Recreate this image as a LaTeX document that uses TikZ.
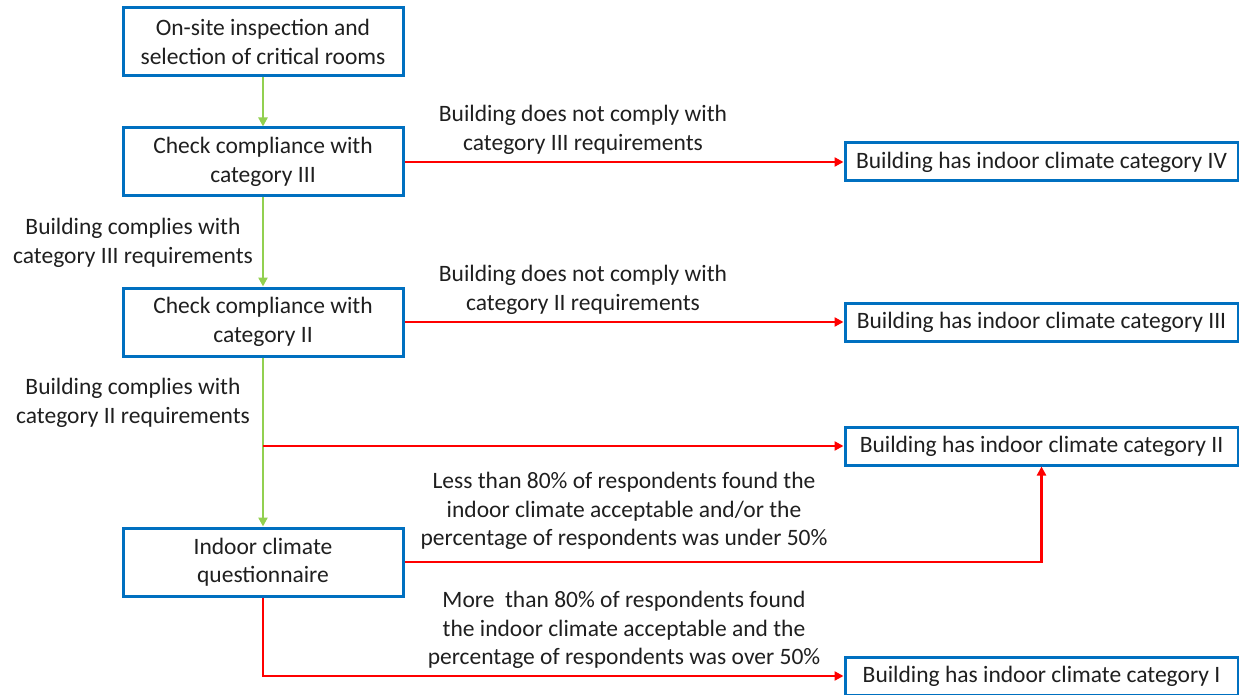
\documentclass[tikz,border=0pt]{standalone}
\usepackage{fontspec}
\setmainfont{Carlito}
\usetikzlibrary{arrows.meta}
\definecolor{boxblue}{RGB}{0,112,192}
\definecolor{okgreen}{RGB}{146,208,80}
\definecolor{failred}{RGB}{255,0,0}
\begin{document}
\begin{tikzpicture}[x=1pt,y=-1pt,
  every node/.style={font=\fontsize{23.5}{28.5}\selectfont, text=black!88, inner sep=0pt},
  stepbox/.style={draw=boxblue, line width=3pt, fill=white, minimum width=280pt, minimum height=68pt, align=center},
  resbox/.style={draw=boxblue, line width=3pt, fill=white, minimum width=393pt, minimum height=38pt, align=center},
  lbl/.style={align=center},
  yes/.style={draw=okgreen, line width=2.4pt, -{Triangle[length=9pt,width=9pt]}},
  no/.style={draw=failred, line width=2.4pt, -{Triangle[length=9pt,width=9pt]}}]
\useasboundingbox (0,0) rectangle (1239,695);

% process steps
\node[stepbox] (s1) at (263,42) {On-site inspection and\\selection of critical rooms};
\node[stepbox] (s2) at (263,162) {Check compliance with\\category III};
\node[stepbox] (s3) at (263,322) {Check compliance with\\category II};
\node[stepbox] (s4) at (263,562) {Indoor climate\\questionnaire};

% outcomes
\node[resbox] (c4) at (1041.5,162) {Building has indoor climate category IV};
\node[resbox] (c3) at (1041.5,322) {Building has indoor climate category III};
\node[resbox] (c2) at (1041.5,446) {Building has indoor climate category II};
\node[resbox] (c1) at (1041.5,676) {Building has indoor climate category I};

% compliant path
\draw[yes] (s1) -- (s2);
\draw[yes] (s2) -- (s3);
\draw[yes] (s3) -- (s4);
\coordinate (j) at (263,446);

% outcome connectors
\draw[no] (s2) -- (c4);
\draw[no] (s3) -- (c3);
\draw[no] (j) -- (c2);
\draw[no] (s4.east) -| (c2.south);
\draw[no] (s4.south) |- (c1.west);

% labels
\node[lbl] (l1) at (583,130) {Building does not comply with\\category III requirements};
\node[lbl] (l2) at (133,243) {Building complies with\\category III requirements};
\node[lbl] (l3) at (583,290) {Building does not comply with\\category II requirements};
\node[lbl] (l4) at (133,403) {Building complies with\\category II requirements};
\node[lbl] (l5) at (624,511) {Less than 80\% of respondents found the\\indoor climate acceptable and/or the\\percentage of respondents was under 50\%};
\node[lbl] (l6) at (624,630) {More\ \ than 80\% of respondents found\\the indoor climate acceptable and the\\percentage of respondents was over 50\%};
\end{tikzpicture}
\end{document}
